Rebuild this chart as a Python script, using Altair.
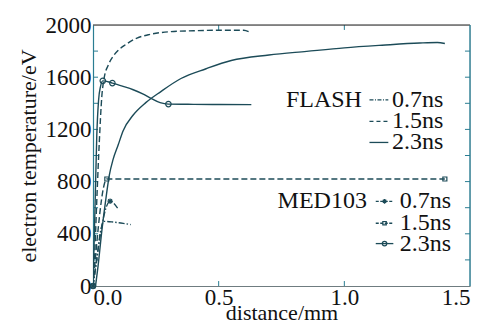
import altair as alt
import pandas as pd

FONT = "'Liberation Serif', 'Times New Roman', Times, serif"
LINE = "#1c4b58"
TEAL = "#2a7d92"

# ---- data ----
# FLASH simulations
flash07_x = [0.0, 0.015, 0.03, 0.045, 0.08, 0.12, 0.15]
flash07_y = [0, 200, 420, 495, 490, 480, 470]
flash15_x = [0.0, 0.008, 0.016, 0.025, 0.035, 0.045, 0.06, 0.08, 0.1, 0.13, 0.175, 0.22, 0.3, 0.4, 0.5, 0.6, 0.62]
flash15_y = [0, 300, 700, 1100, 1450, 1600, 1690, 1760, 1805, 1850, 1900, 1925, 1948, 1956, 1960, 1960, 1948]
flash23_x = [0.01, 0.02, 0.035, 0.05, 0.065, 0.08, 0.1, 0.12, 0.16, 0.21, 0.27, 0.35, 0.45, 0.55, 0.7, 0.85, 1.0, 1.15, 1.3, 1.37, 1.4]
flash23_y = [0, 150, 420, 650, 850, 970, 1080, 1190, 1310, 1405, 1490, 1590, 1665, 1728, 1770, 1798, 1825, 1845, 1862, 1866, 1858]

# MED103 simulations
med07_x = [0.0, 0.068, 0.1]
med07_y = [0, 650, 590]
med07_mark = [True, True, False]
med15_x = [0.0, 0.055, 1.40]
med15_y = [0, 820, 820]
med15_mark = [True, True, True]
med23_x = [0.0, 0.008, 0.015, 0.022, 0.03, 0.039, 0.077, 0.12, 0.16, 0.2, 0.227, 0.267, 0.30, 0.4, 0.5, 0.63]
med23_y = [0, 600, 1150, 1420, 1530, 1572, 1555, 1530, 1504, 1470, 1442, 1405, 1394, 1392, 1391, 1390]
med23_mark = [True, False, False, False, False, True, True, False, False, False, False, False, True, False, False, False]

# axes
x_ticks = [0.0, 0.5, 1.0, 1.5]
y_ticks = [0, 400, 800, 1200, 1600, 2000]
y_minor = [200, 400, 600, 800, 1000, 1200, 1400, 1600, 1800]
x_minor = [0.5, 1.0]

# legend
legend_labels = ["0.7ns", "1.5ns", "2.3ns"]
flash_leg_y = [1427, 1262, 1100]
med_leg_y = [649, 481, 325]

X = alt.Scale(domain=[0, 1.5], nice=False, zero=False)
Y = alt.Scale(domain=[0, 2000], nice=False)

STAR = "M-1,0L1,0M0,-1L0,1M-0.7,-0.7L0.7,0.7M-0.7,0.7L0.7,-0.7"

def line(xs, ys, dash=None, width=1.4):
    df = pd.DataFrame({"x": xs, "y": ys})
    kw = dict(color=LINE, strokeWidth=width, interpolate="monotone", clip=True)
    if dash:
        kw["strokeDash"] = dash
    return alt.Chart(df).mark_line(**kw).encode(
        x=alt.X("x:Q", scale=X), y=alt.Y("y:Q", scale=Y))

def marks(xs, ys, flags, shape, size):
    df = pd.DataFrame({"x": xs, "y": ys, "m": flags})
    df = df[df["m"]]
    return alt.Chart(df).mark_point(shape=shape, size=size, filled=False,
                                    color=LINE, strokeWidth=1.2, opacity=1).encode(
        x=alt.X("x:Q", scale=X), y=alt.Y("y:Q", scale=Y))

DD = [6, 2, 1.5, 2]
DA = [6, 3]

# base with axes
base = alt.Chart(pd.DataFrame({"x": [0.0], "y": [0]})).mark_point(opacity=0).encode(
    x=alt.X("x:Q", scale=X, title="distance/mm",
            axis=alt.Axis(values=x_ticks, format=".1f", ticks=False, grid=False,
                          domainColor="#6f7c80", domainWidth=1.2,
                          labelFont=FONT, labelFontSize=23, labelColor="#111",
                          labelPadding=0, labelFlush=True,
                          titleFont=FONT, titleFontSize=22, titleFontWeight="normal",
                          titleColor="#111", titlePadding=-7)),
    y=alt.Y("y:Q", scale=Y, title="electron temperature/eV",
            axis=alt.Axis(values=y_ticks, format="d", ticks=False, grid=False,
                          domainColor=TEAL, domainWidth=1.2,
                          labelFont=FONT, labelFontSize=23, labelColor="#111",
                          labelPadding=2, labelFlush=False,
                          titleFont=FONT, titleFontSize=22, titleFontWeight="normal",
                          titleColor="#111", titlePadding=5)),
)

# frame: top and right
top = alt.Chart(pd.DataFrame({"x": [0.0], "x2": [1.5], "y": [2000]})).mark_rule(
    color="#222", strokeWidth=1.2).encode(x=alt.X("x:Q", scale=X), x2="x2:Q", y=alt.Y("y:Q", scale=Y))
right = alt.Chart(pd.DataFrame({"x": [1.5], "y": [0], "y2": [2000]})).mark_rule(
    color=TEAL, strokeWidth=1.4).encode(x=alt.X("x:Q", scale=X), y=alt.Y("y:Q", scale=Y), y2="y2:Q")

# inward ticks
lt = pd.DataFrame({"y": y_minor, "x": [0.0] * len(y_minor), "x2": [0.02] * len(y_minor)})
rt = pd.DataFrame({"y": y_minor, "x": [1.48] * len(y_minor), "x2": [1.5] * len(y_minor)})
tt = pd.DataFrame({"x": x_minor, "y": [2000] * 2, "y2": [1962] * 2})
bt = pd.DataFrame({"x": x_minor, "y": [0] * 2, "y2": [38] * 2})
ticks = [
    alt.Chart(lt).mark_rule(color=TEAL, strokeWidth=1).encode(x=alt.X("x:Q", scale=X), x2="x2:Q", y=alt.Y("y:Q", scale=Y)),
    alt.Chart(rt).mark_rule(color=TEAL, strokeWidth=1).encode(x=alt.X("x:Q", scale=X), x2="x2:Q", y=alt.Y("y:Q", scale=Y)),
    alt.Chart(tt).mark_rule(color=TEAL, strokeWidth=1).encode(x=alt.X("x:Q", scale=X), y=alt.Y("y:Q", scale=Y), y2="y2:Q"),
    alt.Chart(bt).mark_rule(color=TEAL, strokeWidth=1).encode(x=alt.X("x:Q", scale=X), y=alt.Y("y:Q", scale=Y), y2="y2:Q"),
]

curves = [
    line(flash07_x, flash07_y, DD),
    line(flash15_x, flash15_y, DA),
    line(flash23_x, flash23_y),
    line(med07_x, med07_y, DD),
    marks(med07_x, med07_y, med07_mark, STAR, 30),
    line(med15_x, med15_y, DA),
    marks(med15_x, med15_y, med15_mark, "square", 16),
    line(med23_x, med23_y),
    marks(med23_x, med23_y, med23_mark, "circle", 30),
]

# legend
def legtext(xs, ys, texts, align):
    df = pd.DataFrame({"x": xs, "y": ys, "t": texts})
    return alt.Chart(df).mark_text(font=FONT, fontSize=24, align=align, baseline="middle",
                                   color="#111").encode(
        x=alt.X("x:Q", scale=X), y=alt.Y("y:Q", scale=Y), text="t:N")

def legline(x1, x2, y, dash=None):
    df = pd.DataFrame({"x": [x1], "x2": [x2], "y": [y]})
    kw = dict(color=LINE, strokeWidth=1.3)
    if dash:
        kw["strokeDash"] = dash
    return alt.Chart(df).mark_rule(**kw).encode(x=alt.X("x:Q", scale=X), x2="x2:Q", y=alt.Y("y:Q", scale=Y))

legend = [
    legtext([1.07], [flash_leg_y[0]], ["FLASH"], "right"),
    legtext([1.19] * 3, flash_leg_y, legend_labels, "left"),
    legline(1.10, 1.175, flash_leg_y[0], [4, 1.5, 1, 1.5]),
    legline(1.10, 1.175, flash_leg_y[1], [4, 3]),
    legline(1.10, 1.175, flash_leg_y[2]),
    legtext([1.09], [med_leg_y[0]], ["MED103"], "right"),
    legtext([1.22] * 3, med_leg_y, legend_labels, "left"),
    legline(1.125, 1.195, med_leg_y[0], [3, 1.5]),
    legline(1.125, 1.195, med_leg_y[1], [3, 1.5]),
    legline(1.125, 1.195, med_leg_y[2]),
    marks([1.16], [med_leg_y[0]], [True], STAR, 22),
    marks([1.16], [med_leg_y[1]], [True], "square", 12),
    marks([1.16], [med_leg_y[2]], [True], "circle", 20),
]

chart = alt.layer(base, *ticks, *curves, top, right, *legend).properties(
    width=377, height=261,
    autosize=alt.AutoSizeParams(type="none"),
    padding={"left": 85, "top": 17, "right": 5, "bottom": 37},
).configure_view(stroke=None).configure(background="white")

chart.save("out.html", embed_options={"renderer": "svg", "actions": False})
